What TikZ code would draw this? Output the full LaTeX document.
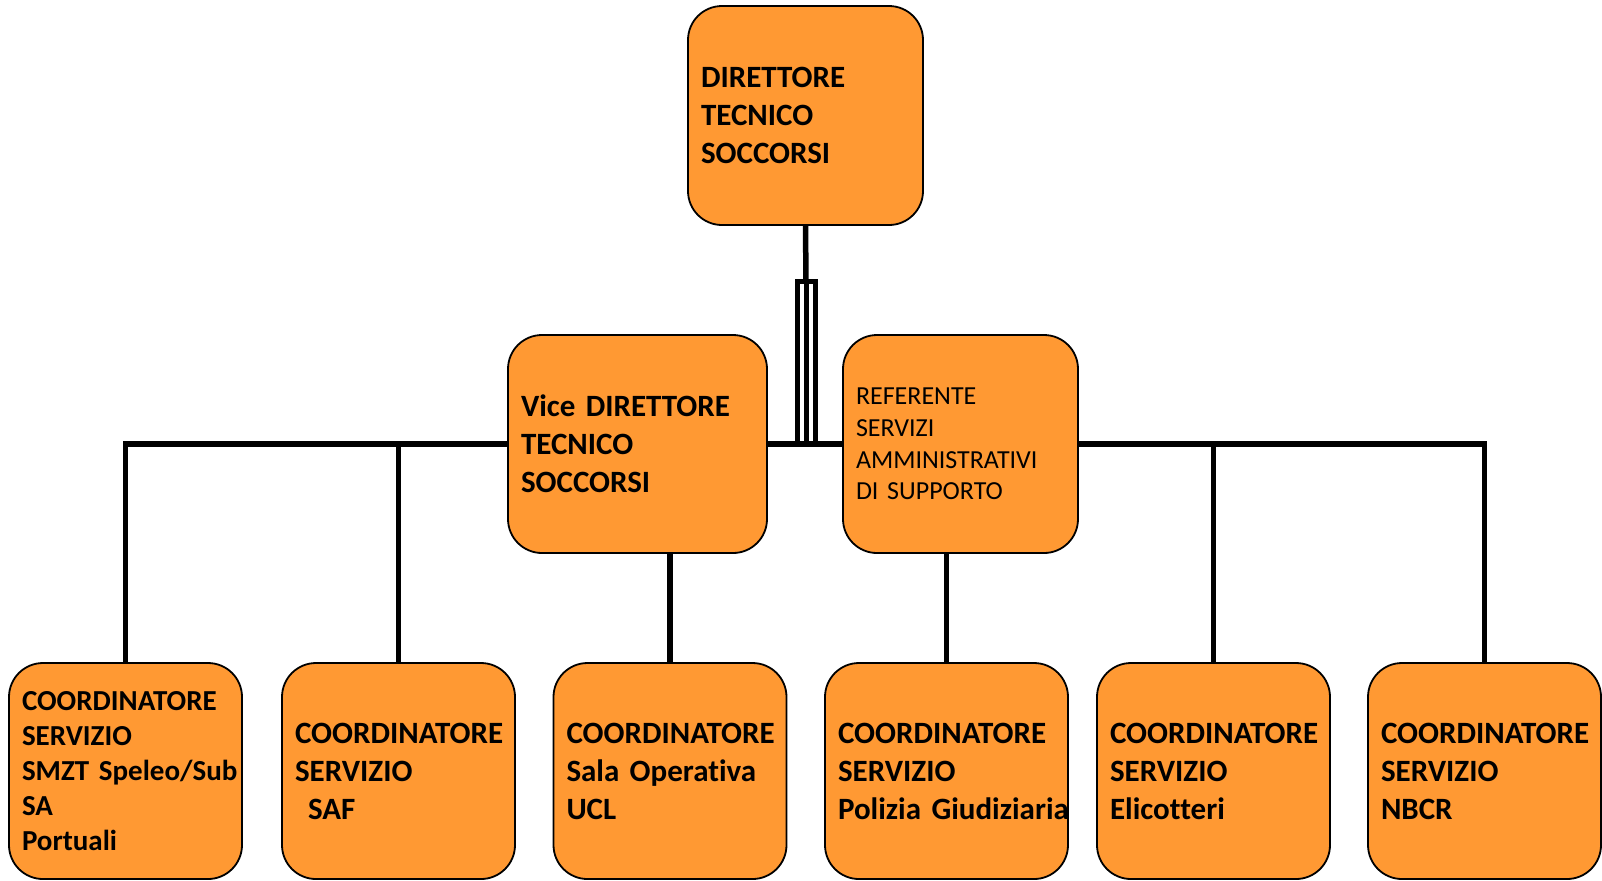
\documentclass[tikz,border=0pt]{standalone}
\usepackage{fontspec}
\setmainfont{Carlito}[Ligatures=NoCommon]
\definecolor{arancio}{RGB}{255,153,51}

\begin{document}
\begin{tikzpicture}[x=0.5pt,y=-0.5pt,
        box/.style={draw=black, line width=0.9pt, fill=arancio, rounded corners=17pt,
            inner xsep=6.5pt, inner ysep=0pt, align=left, minimum height=108pt,
            font=\bfseries\fontsize{15.5}{19}\selectfont},
        link/.style={line width=2.75pt},
        triple/.style={line width=2.5pt}]
        \useasboundingbox (0,0) rectangle (1602,880);

        \node[box, minimum width=117.5pt, text width=104.5pt, minimum height=109.5pt] (dir) at (805.5,115.5) {DIRETTORE\\TECNICO\\SOCCORSI};

        \node[box, minimum width=129.5pt, text width=116.5pt, minimum height=109pt] (vice) at (637.5,444) {Vice DIRETTORE\\TECNICO\\SOCCORSI};
        \node[box, minimum width=117.5pt, text width=104.5pt, minimum height=109pt, font=\fontsize{13}{15.8}\selectfont] (ref) at (960.5,444) {REFERENTE\\SERVIZI\\AMMINISTRATIVI\\DI SUPPORTO};

        \node[box, minimum width=116.5pt, text width=103.5pt, font=\bfseries\fontsize{14.5}{17.5}\selectfont] (smzt) at (125.5,771) {COORDINATORE\\SERVIZIO\\SMZT~Speleo/Sub\\SA\\Portuali};
        \node[box, minimum width=116.5pt, text width=103.5pt] (saf) at (398.5,771) {COORDINATORE\\SERVIZIO\\\hspace*{6.5pt}SAF};
        \node[box, minimum width=116.5pt, text width=103.5pt] (sala) at (670,771) {COORDINATORE\\Sala~Operativa\\UCL};
        \node[box, minimum width=121.5pt, text width=108.5pt] (pg) at (946.5,771) {COORDINATORE\\SERVIZIO\\Polizia~Giudiziaria};
        \node[box, minimum width=116.5pt, text width=103.5pt] (eli) at (1213.5,771) {COORDINATORE\\SERVIZIO\\Elicotteri};
        \node[box, minimum width=116.5pt, text width=103.5pt] (nbcr) at (1484.5,771) {COORDINATORE\\SERVIZIO\\NBCR};

        \coordinate (snodo) at (806,281);
        \coordinate (tl) at (797,281);
        \coordinate (tr) at (815,281);

        \draw[link] (dir.south) -- (snodo);
        \draw[triple] (tl |- vice.east) -- (tl) -- (tr) -- (tr |- vice.east);
        \draw[triple] (snodo) -- (snodo |- vice.east);

        \draw[link] (smzt.north) -- (smzt.north |- vice.west) -- (vice.west);
        \draw[link] (saf.north |- vice.west) -- (saf.north);
        \draw[link] (vice.east) -- (ref.west);
        \draw[link] (ref.east) -- (nbcr.north |- ref.east) -- (nbcr.north);
        \draw[link] (eli.north |- ref.east) -- (eli.north);
        \draw[link] (sala.north |- vice.south) -- (sala.north);
        \draw[link] (pg.north |- ref.south) -- (pg.north);
    \end{tikzpicture}
\end{document}
